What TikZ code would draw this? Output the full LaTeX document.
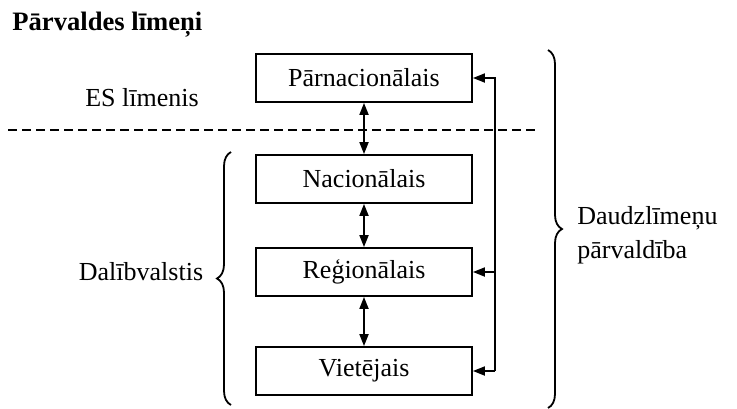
\documentclass[tikz,border=0pt]{standalone}
\usepackage{fontspec}
\setmainfont{Liberation Serif}
\usetikzlibrary{arrows.meta,decorations.pathreplacing}
\begin{document}
\begin{tikzpicture}[x=0.5pt,y=-0.5pt,
  lvlbox/.style={draw,line width=0.9pt,minimum width=108pt,minimum height=24pt,inner sep=0pt,font=\fontsize{13}{15}\selectfont},
  lbl/.style={font=\fontsize{13}{17}\selectfont,inner sep=0pt},
  conn/.style={line width=0.9pt},
  tip/.style={-{Triangle[length=6pt,width=4.5pt]}},
  dtip/.style={{Triangle[length=6pt,width=4.5pt]}-{Triangle[length=6pt,width=4.5pt]}},
  brc/.style={decorate,decoration={brace,amplitude=7pt},line width=0.9pt}]
\useasboundingbox (0,0) rectangle (737,408);
\node[lbl,font=\fontsize{13.3}{15}\selectfont\bfseries,anchor=west] (title) at (12,25) {Pārvaldes līmeņi};
\node[lvlbox] (P) at (364,78) {Pārnacionālais};
\node[lvlbox] (N) at (364,179) {Nacionālais};
\node[lvlbox] (R) at (364,272) {Reģionālais};
\node[lvlbox] (V) at (364,371) {Vietējais};
\node[lbl] (es) at (142,98) {ES līmenis};
\node[lbl] (dal) at (141,272) {Dalībvalstis};
\node[lbl,align=left,anchor=west] (dm) at (577,235) {Daudzlīmeņu\\pārvaldība};
\coordinate (d1) at (8,130);
\coordinate (d2) at (540,130);
\draw[dash pattern=on 4.5pt off 2.5pt,line width=0.9pt] (d1) -- (d2);
\draw[conn,dtip] (P.south) -- (N.north);
\draw[conn,dtip] (N.south) -- (R.north);
\draw[conn,dtip] (R.south) -- (V.north);
\coordinate (kP) at (495,78);
\coordinate (kR) at (495,272);
\coordinate (kV) at (495,371);
\draw[conn,tip] (kV) -- (kP) -- (P.east);
\draw[conn,tip] (kR) -- (R.east);
\draw[conn,tip] (kV) -- (V.east);
\coordinate (lb1) at (231,405);
\coordinate (lb2) at (231,152);
\draw[brc] (lb1) -- (lb2);
\coordinate (rb1) at (548,50);
\coordinate (rb2) at (548,408);
\draw[brc] (rb1) -- (rb2);
\end{tikzpicture}
\end{document}
